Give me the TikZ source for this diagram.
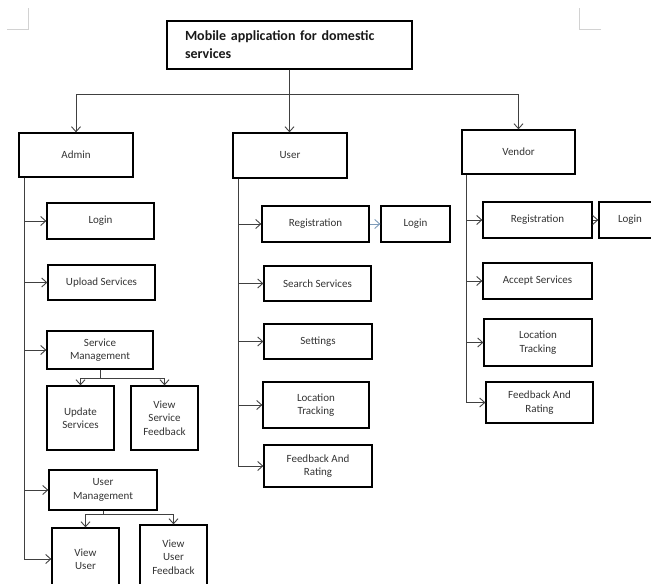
\documentclass[tikz,border=0pt]{standalone}
\usepackage{fontspec}
\setmainfont{Carlito}
\usetikzlibrary{arrows.meta}
\definecolor{linkblue}{RGB}{125,155,185}
\tikzset{
  box/.style 2 args={draw,line width=1.3pt,minimum width=#1,minimum height=#2,inner sep=1pt,align=center,font=\fontsize{11}{13.5}\selectfont,text=black!80},
  branch/.style={line width=0.9pt,black!75,-{Straight Barb[length=5pt,width=9pt]}},
  crop/.style={line width=0.6pt,gray!35}
}

\begin{document}
\begin{tikzpicture}[x=1pt,y=-1pt]
  \useasboundingbox (0,0) rectangle (651,584);

  % Page corners
  \draw[crop] (7,29) -| (28,8);
  \draw[crop] (601,29) -| (579,8);

  % Title
  \node[box={245pt}{48pt},font=\fontsize{14}{18}\bfseries\selectfont,text=black!90,text width=209pt,align=left] (title) at (289.5,45) {Mobile application for domestic services};

  % Roles
  \node[box={114pt}{44pt}] (admin) at (76,155) {Admin};
  \node[box={114pt}{45pt}] (user) at (290,155.5) {User};
  \node[box={113pt}{44pt}] (vendor) at (518.5,152) {Vendor};
  \draw[branch] (title.south) -- ++(0,25) -| (admin.north);
  \draw[branch] (title.south) -- (title.south |- user.north);
  \draw[branch] (title.south) -- ++(0,25) -| (vendor.north);

  % Admin
  \node[box={107pt}{36pt}] (alogin) at (100.5,221) {Login};
  \node[box={107pt}{35pt}] (aupload) at (101.5,282.5) {Upload Services};
  \node[box={106pt}{38pt}] (aservice) at (100,350) {Service\\Management};
  \node[box={67pt}{64pt}] (aupdate) at (80.5,418) {Update\\Services};
  \node[box={67pt}{64pt}] (asfeed) at (164.5,418) {View\\Service\\Feedback};
  \node[box={108pt}{40pt}] (auser) at (103,490) {User\\Management};
  \node[box={67pt}{62pt}] (aview) at (85.5,559) {View\\User};
  \node[box={67pt}{64pt}] (aufeed) at (173.5,557) {View\\User\\Feedback};
  \foreach \n in {alogin,aupload,aservice,auser,aview}
    \draw[branch] ([xshift=6pt]admin.south west) |- (\n.west);
  \draw[branch] (aservice.south) -- ++(0,9) -| (aupdate.north);
  \draw[branch] (aservice.south) -- ++(0,9) -| (asfeed.north);
  \draw[branch] (auser.south) -- ++(0,4) -| (aview.north);
  \draw[branch] (auser.south) -- ++(0,4) -| (aufeed.north);

  % User
  \node[box={107pt}{36pt}] (ureg) at (315.5,224) {Registration};
  \node[box={69pt}{36pt}] (ulogin) at (415.5,224) {Login};
  \node[box={107pt}{35pt}] (usearch) at (317.5,283.5) {Search Services};
  \node[box={108pt}{35pt}] (usettings) at (318,341.5) {Settings};
  \node[box={106pt}{46pt}] (utrack) at (316,405) {Location\\Tracking};
  \node[box={108pt}{42pt}] (ufeed) at (318,466) {Feedback And\\Rating};
  \foreach \n in {ureg,usearch,usettings,utrack,ufeed}
    \draw[branch] ([xshift=6pt]user.south west) |- (\n.west);
  \draw[branch,linkblue] (ureg) -- (ulogin);

  % Vendor
  \node[box={109pt}{36pt}] (vreg) at (537.5,220) {Registration};
  \node[box={62pt}{36pt}] (vlogin) at (630,220) {Login};
  \node[box={109pt}{36pt}] (vaccept) at (537.5,281) {Accept Services};
  \node[box={108pt}{47pt}] (vtrack) at (538,342.5) {Location\\Tracking};
  \node[box={107pt}{41pt}] (vfeed) at (539.5,402.5) {Feedback And\\Rating};
  \foreach \n in {vreg,vaccept,vtrack,vfeed}
    \draw[branch] ([xshift=5pt]vendor.south west) |- (\n.west);
  \draw[branch] (vreg) -- (vlogin);
\end{tikzpicture}
\end{document}
